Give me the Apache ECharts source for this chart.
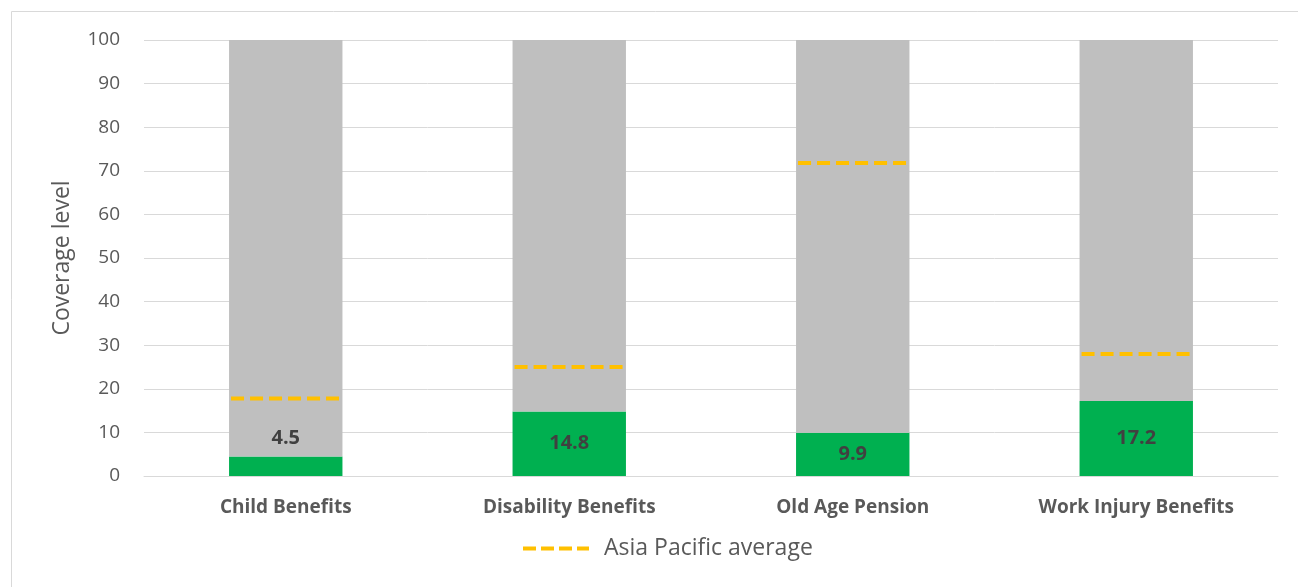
<!DOCTYPE html>
<html>
<head>
<meta charset="utf-8">
<script src="https://cdn.jsdelivr.net/npm/echarts@6/dist/echarts.min.js"></script>
<style>
  html, body { margin: 0; padding: 0; background: #fff; }
  #chart { width: 1298px; height: 587px; }
</style>
</head>
<body>
<div id="chart"></div>
<script>
// 数据
const categories = ["Child Benefits", "Disability Benefits", "Old Age Pension", "Work Injury Benefits"];
const coverage = [4.5, 14.8, 9.9, 17.2];
const asiaPacificAvg = [17.8, 25.0, 71.8, 28.0];
const yTicks = [0, 10, 20, 30, 40, 50, 60, 70, 80, 90, 100];

const fontFamily = "'Open Sans', 'Noto Sans', sans-serif";
const chart = echarts.init(document.getElementById("chart"));

// 灰色部分补足到 100
const remainder = coverage.map(v => +(100 - v).toFixed(1));

const option = {
  animation: false,
  textStyle: { fontFamily },
  graphic: [
    {
      type: "rect",
      shape: { x: 11.5, y: 11.5, width: 1400, height: 700 },
      style: { fill: "none", stroke: "#D9D9D9", lineWidth: 1 },
      silent: true,
    },
  ],
  grid: { left: 144, right: 20, top: 40, bottom: 111 },
  legend: {
    bottom: 22,
    left: 518,
    itemWidth: 66,
    itemHeight: 4,
    icon: "path://M0,0h13v4h-13z M18,0h13v4h-13z M36,0h13v4h-13z M54,0h12v4h-12z",
    textStyle: { fontSize: 23, color: "#595959", fontFamily, padding: [0, 0, 0, 10] },
    data: [{ name: "Asia Pacific average", itemStyle: { color: "#FFC000" } }],
  },
  xAxis: {
    type: "category",
    data: categories,
    axisTick: { show: false },
    axisLine: { lineStyle: { color: "#D9D9D9", width: 1 } },
    axisLabel: {
      fontSize: 19,
      fontWeight: "bold",
      color: "#595959",
      margin: 22,
    },
  },
  yAxis: {
    type: "value",
    min: 0,
    max: 100,
    interval: 10,
    name: "Coverage level",
    nameLocation: "middle",
    nameGap: 70,
    nameTextStyle: { fontSize: 23, color: "#595959" },
    axisLine: { show: false },
    axisTick: { show: false },
    splitLine: { lineStyle: { color: "#D9D9D9", width: 1 } },
    axisLabel: {
      fontSize: 19,
      color: "#595959",
      margin: 24,
      formatter: v => (yTicks.includes(v) ? String(v) : ""),
    },
  },
  series: [
    {
      name: "Coverage",
      type: "bar",
      stack: "total",
      barWidth: "40%",
      itemStyle: { color: "#00B050" },
      label: {
        show: true,
        position: "inside",
        fontSize: 20,
        fontWeight: "bold",
        color: "#404040",
      },
      data: coverage.map((v, i) =>
        i === 0
          ? { value: v, label: { position: "top", distance: 8 } }
          : v
      ),
    },
    {
      name: "Remainder",
      type: "bar",
      stack: "total",
      barWidth: "40%",
      itemStyle: { color: "#BFBFBF" },
      data: remainder,
    },
    {
      name: "Asia Pacific average",
      type: "custom",
      z: 5,
      itemStyle: { color: "#FFC000" },
      renderItem: (params, api) => {
        const pt = api.coord([api.value(0), api.value(1)]);
        const w = api.size([1, 0])[0] * 0.4;
        return {
          type: "line",
          shape: { x1: pt[0] - w / 2 + 2, y1: pt[1], x2: pt[0] + w / 2 - 2, y2: pt[1] },
          style: { stroke: "#FFC000", lineWidth: 4, lineDash: [13, 6] },
        };
      },
      data: asiaPacificAvg.map((v, i) => [i, v]),
    },
  ],
};

chart.setOption(option);

window.addEventListener("resize", () => {
  chart.resize();
});
</script>
</body>
</html>
